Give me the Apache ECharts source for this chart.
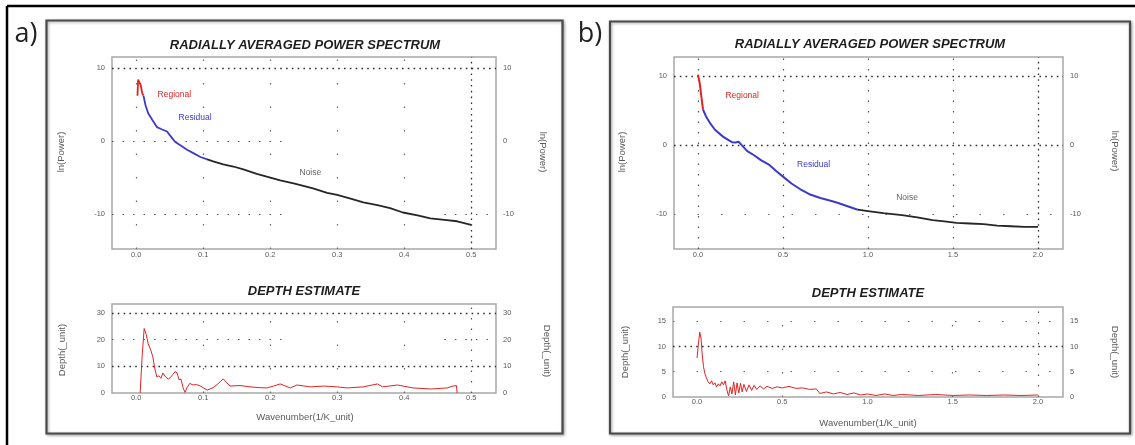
<!DOCTYPE html>
<html><head><meta charset="utf-8">
<script src="https://cdn.jsdelivr.net/npm/echarts@6/dist/echarts.min.js"></script>
<style>html,body{margin:0;padding:0;background:#fff}#c{width:1135px;height:445px}</style>
</head><body><div id="c"></div>
<script>
// ---- Panel a: radially averaged power spectrum (ln(Power) vs wavenumber) ----
const specA_regional = [[0.002,6.2],[0.003,8.4],[0.005,8.6],[0.007,7.6],[0.009,6.6],[0.011,6.2]];
const specA_residual = [[0.011,6.2],[0.014,4.9],[0.018,3.8],[0.024,2.9],[0.031,1.9],[0.038,1.6],[0.046,1.3],[0.052,0.6],[0.058,-0.1],[0.066,-0.6],[0.076,-1.2],[0.086,-1.7],[0.096,-2.2],[0.105,-2.5]];
const specA_noise = [[0.105,-2.5],[0.115,-2.8],[0.13,-3.2],[0.145,-3.5],[0.16,-3.9],[0.18,-4.5],[0.195,-4.9],[0.215,-5.4],[0.235,-5.8],[0.264,-6.5],[0.285,-7.1],[0.3,-7.4],[0.32,-7.9],[0.339,-8.4],[0.36,-8.8],[0.379,-9.2],[0.398,-9.8],[0.42,-10.2],[0.439,-10.6],[0.46,-10.8],[0.479,-11.0],[0.5,-11.5]];
// ---- Panel a: depth estimate ----
const depthA = [[0.006,0],[0.009,14],[0.012,24.2],[0.015,22],[0.018,18.5],[0.022,16],[0.025,13.5],[0.028,9],[0.031,6],[0.034,6.5],[0.037,5.5],[0.04,7.5],[0.044,6],[0.048,5.2],[0.051,5.8],[0.055,7],[0.058,8],[0.061,7.6],[0.064,5],[0.067,5.2],[0.07,2],[0.073,0.2],[0.076,2],[0.08,3.6],[0.085,3.0],[0.09,3.2],[0.096,2.6],[0.106,1.1],[0.115,2.0],[0.122,3.4],[0.13,5.3],[0.14,2.6],[0.155,2.8],[0.17,2.3],[0.185,2.0],[0.195,1.9],[0.205,2.6],[0.215,3.4],[0.23,1.9],[0.24,3.0],[0.26,2.3],[0.28,2.6],[0.3,2.3],[0.315,1.9],[0.339,2.3],[0.36,3.4],[0.368,2.3],[0.39,3.0],[0.413,1.9],[0.44,1.5],[0.464,1.9],[0.473,2.6],[0.478,2.8],[0.479,0]];

// ---- Panel b: radially averaged power spectrum ----
const specB_regional = [[0.0,10.2],[0.005,9.6],[0.01,9.0],[0.015,8.0],[0.02,7.0],[0.025,6.0],[0.03,5.1]];
const specB_residual = [[0.03,5.1],[0.05,4.0],[0.07,3.2],[0.1,2.2],[0.147,1.2],[0.18,0.7],[0.2,0.4],[0.22,0.35],[0.24,0.45],[0.26,-0.1],[0.29,-0.9],[0.33,-1.5],[0.37,-2.2],[0.42,-2.9],[0.46,-3.8],[0.5,-4.6],[0.55,-5.6],[0.6,-6.4],[0.66,-7.2],[0.72,-7.7],[0.78,-8.1],[0.82,-8.4],[0.88,-8.9],[0.94,-9.4]];
const specB_noise = [[0.94,-9.4],[1.0,-9.6],[1.09,-9.9],[1.2,-10.2],[1.29,-10.5],[1.38,-10.9],[1.45,-11.1],[1.52,-11.3],[1.6,-11.4],[1.68,-11.5],[1.76,-11.7],[1.84,-11.8],[1.92,-11.9],[2.0,-11.9]];
// ---- Panel b: depth estimate ----
const depthB = [[0.0,7.7],[0.008,10.5],[0.016,12.8],[0.024,11.5],[0.03,8.5],[0.038,6.0],[0.046,4.6],[0.055,3.8],[0.065,3.0],[0.075,2.6],[0.085,3.2],[0.095,2.4],[0.105,2.8],[0.115,2.0],[0.125,2.6],[0.135,2.2],[0.145,3.0],[0.155,2.4],[0.165,3.2],[0.175,1.4],[0.185,0.2],[0.195,2.0],[0.205,0.6],[0.215,3.0],[0.225,0.4],[0.235,2.8],[0.245,0.8],[0.255,2.7],[0.265,1.0],[0.275,2.5],[0.29,1.1],[0.305,2.4],[0.32,1.3],[0.335,2.3],[0.35,1.5],[0.37,2.2],[0.39,1.6],[0.41,2.1],[0.44,1.7],[0.47,2.0],[0.5,1.8],[0.54,2.1],[0.58,1.7],[0.62,1.8],[0.66,1.5],[0.7,1.6],[0.72,0.7],[0.76,1.0],[0.8,0.6],[0.84,0.9],[0.88,0.5],[0.92,0.8],[0.96,0.4],[1.0,0.6],[1.05,0.3],[1.1,0.6],[1.15,0.3],[1.2,0.5],[1.3,0.3],[1.4,0.5],[1.5,0.3],[1.6,0.4],[1.7,0.3],[1.8,0.4],[1.9,0.3],[2.0,0.4]];

// ---- Tick labels ----
const ticksA_x = [0, 0.1, 0.2, 0.3, 0.4, 0.5];
const ticksB_x = [0, 0.5, 1.0, 1.5, 2.0];
const ticksSpec_y = [-10, 0, 10];
const ticksDepthA_y = [0, 10, 20, 30];
const ticksDepthB_y = [0, 5, 10, 15];

const TXT = '#5a5a5a';
const FONT = '"Liberation Sans", Arial, sans-serif';
const RED = '#e02424', BLUE = '#3b3bc8', BLACK = '#262626';

const heavyDot = {type:[1.6,4.2], color:'#303030', width:1.3};
const sparseDot = {type:[1.5,22], color:'#6a6a6a', width:1.2};
const midDot = {type:[1.5,9], color:'#555', width:1.2};

function xAx(grid, min, max, ticks, margin) {
  return {gridIndex:grid, type:'value', min, max,
    axisLine:{show:false}, axisTick:{show:false}, splitLine:{show:false},
    axisLabel:{customValues:ticks, formatter:v=>v.toFixed(1), fontSize:7.5, color:TXT, fontFamily:FONT, margin}};
}
function yAx(grid, min, max, ticks, pos) {
  return {gridIndex:grid, type:'value', min, max, position:pos,
    axisLine:{show:false}, axisTick:{show:false}, splitLine:{show:false},
    axisLabel:{customValues:ticks, fontSize:7.5, color:TXT, fontFamily:FONT, margin:7}};
}
function gridLines(items) {
  return {silent:true, symbol:['none','none'], label:{show:false}, animation:false,
    emphasis:{disabled:true}, data:items};
}
function curve(name, data, xi, yi, color, width, extra) {
  return Object.assign({name, type:'line', data, xAxisIndex:xi, yAxisIndex:yi, showSymbol:false,
    symbol:'none', lineStyle:{color, width}, silent:true, animation:false, z:5}, extra || {});
}
function tag(text, coord, color) {
  return {silent:true, symbol:'circle', symbolSize:0, animation:false,
    data:[{coord, label:{show:true, position:'inside', formatter:text, color, fontSize:8.5, fontFamily:FONT}}]};
}

const grids = [
  {left:112, top:57, width:384, height:192},
  {left:112, top:304, width:384, height:89},
  {left:674, top:57, width:389, height:192},
  {left:673, top:307, width:390, height:90}
].map(g => Object.assign(g, {show:true, borderColor:'#a8a8a8', borderWidth:1.5, backgroundColor:'#fff'}));

const xAxes = [
  xAx(0, -0.036, 0.537, ticksA_x, 2),
  xAx(1, -0.036, 0.537, ticksA_x, 1),
  xAx(2, -0.141, 2.147, ticksB_x, 2),
  xAx(3, -0.141, 2.147, ticksB_x, 1)
];
const yAxes = [
  yAx(0, -14.8, 11.5, ticksSpec_y, 'left'), yAx(0, -14.8, 11.5, ticksSpec_y, 'right'),
  yAx(1, 0, 33.4, ticksDepthA_y, 'left'), yAx(1, 0, 33.4, ticksDepthA_y, 'right'),
  yAx(2, -15.1, 12.75, ticksSpec_y, 'left'), yAx(2, -15.1, 12.75, ticksSpec_y, 'right'),
  yAx(3, 0, 17.8, ticksDepthB_y, 'left'), yAx(3, 0, 17.8, ticksDepthB_y, 'right')
];

const series = [
  // panel a spectrum
  curve('Regional', specA_regional, 0, 0, RED, 1.8, {markPoint: tag('Regional', [0.057, 6.3], RED)}),
  curve('Residual', specA_residual, 0, 0, BLUE, 1.8, {markPoint: tag('Residual', [0.088, 3.15], BLUE)}),
  curve('Noise', specA_noise, 0, 0, BLACK, 1.8, {
    markPoint: tag('Noise', [0.26, -4.4], '#666'),
    markLine: gridLines([
      {yAxis:10, lineStyle:heavyDot},
      [{coord:[-0.036,-10], lineStyle:midDot},{coord:[0.23,-10]}],
      [{coord:[0.46,-10], lineStyle:midDot},{coord:[0.537,-10]}],
      [{coord:[-0.036,0], lineStyle:midDot},{coord:[0.23,0]}],
      {xAxis:0.5, lineStyle:heavyDot},
      {xAxis:0, lineStyle:sparseDot},{xAxis:0.1, lineStyle:sparseDot},{xAxis:0.2, lineStyle:sparseDot},
      {xAxis:0.3, lineStyle:sparseDot},{xAxis:0.4, lineStyle:sparseDot}
    ])}),
  // panel a depth
  curve('Depth', depthA, 1, 2, RED, 1, {markLine: gridLines([
      {yAxis:30, lineStyle:heavyDot},{yAxis:10, lineStyle:heavyDot},
      [{coord:[-0.036,20], lineStyle:midDot},{coord:[0.23,20]}],
      [{coord:[0.46,20], lineStyle:midDot},{coord:[0.537,20]}],
      {xAxis:0.5, lineStyle:midDot},
      {xAxis:0.1, lineStyle:sparseDot},{xAxis:0.2, lineStyle:sparseDot},
      {xAxis:0.3, lineStyle:sparseDot},{xAxis:0.4, lineStyle:sparseDot}
    ])}),
  // panel b spectrum
  curve('Regional', specB_regional, 2, 4, RED, 2, {markPoint: tag('Regional', [0.26, 7.2], RED)}),
  curve('Residual', specB_residual, 2, 4, BLUE, 2, {markPoint: tag('Residual', [0.68, -2.9], BLUE)}),
  curve('Noise', specB_noise, 2, 4, BLACK, 1.8, {
    markPoint: tag('Noise', [1.23, -7.7], '#666'),
    markLine: gridLines([
      {yAxis:10, lineStyle:heavyDot},{yAxis:0, lineStyle:heavyDot},
      {yAxis:-10, lineStyle:sparseDot},
      {xAxis:2.0, lineStyle:heavyDot},
      {xAxis:0, lineStyle:midDot},{xAxis:0.5, lineStyle:midDot},
      {xAxis:1.0, lineStyle:midDot},{xAxis:1.5, lineStyle:midDot}
    ])}),
  // panel b depth
  curve('Depth', depthB, 3, 6, RED, 1, {markLine: gridLines([
      {yAxis:10, lineStyle:heavyDot},{yAxis:15, lineStyle:sparseDot},{yAxis:5, lineStyle:sparseDot},
      {xAxis:2.0, lineStyle:midDot},{xAxis:0.5, lineStyle:sparseDot},{xAxis:1.5, lineStyle:sparseDot}
    ])})
];

function label(text, x, y, opts) {
  return {type:'text', x, y, silent:true, style:Object.assign({text, fill:TXT, font:'9.5px '+FONT, align:'center', verticalAlign:'middle'}, opts || {})};
}
function vlabel(text, x, y, rot) {
  return {type:'text', x, y, rotation:rot, silent:true,
    style:{text, fill:TXT, font:'9.5px '+FONT, align:'center', verticalAlign:'middle'}};
}
const titleFont = 'italic bold 13px ' + FONT;

const graphic = [
  // outer frame
  {type:'line', silent:true, shape:{x1:7, y1:6, x2:1135, y2:6}, style:{stroke:'#000', lineWidth:2.5}},
  {type:'line', silent:true, shape:{x1:7, y1:6, x2:7, y2:445}, style:{stroke:'#000', lineWidth:2.5}},
  // panel frames
  {type:'rect', silent:true, z:-1, shape:{x:46.5, y:20.5, width:516, height:413},
    style:{fill:'#fff', stroke:'#4a4a4a', lineWidth:2.2, shadowBlur:3, shadowColor:'rgba(0,0,0,0.35)', shadowOffsetX:1, shadowOffsetY:1}},
  {type:'rect', silent:true, z:-1, shape:{x:610, y:21.5, width:520, height:412},
    style:{fill:'#fff', stroke:'#4a4a4a', lineWidth:2.2, shadowBlur:3, shadowColor:'rgba(0,0,0,0.35)', shadowOffsetX:1, shadowOffsetY:1}},
  // panel letters
  label('a)', 26, 34, {font:'27px "Open Sans", sans-serif', fill:'#222'}),
  label('b)', 590, 34, {font:'27px "Open Sans", sans-serif', fill:'#222'}),
  // titles
  label('RADIALLY AVERAGED POWER SPECTRUM', 305, 45, {font:titleFont, fill:'#1e1e1e'}),
  label('DEPTH ESTIMATE', 304, 291, {font:titleFont, fill:'#1e1e1e'}),
  label('RADIALLY AVERAGED POWER SPECTRUM', 870, 44, {font:titleFont, fill:'#1e1e1e'}),
  label('DEPTH ESTIMATE', 868, 293, {font:titleFont, fill:'#1e1e1e'}),
  // axis titles
  vlabel('ln(Power)', 61, 152, Math.PI/2), vlabel('ln(Power)', 543, 152, -Math.PI/2),
  vlabel('Depth(_unit)', 62, 350, Math.PI/2), vlabel('Depth(_unit)', 547, 351, -Math.PI/2),
  label('Wavenumber(1/K_unit)', 305, 417),
  vlabel('ln(Power)', 622, 152, Math.PI/2), vlabel('ln(Power)', 1115, 151, -Math.PI/2),
  vlabel('Depth(_unit)', 625, 352, Math.PI/2), vlabel('Depth(_unit)', 1115, 352, -Math.PI/2),
  label('Wavenumber(1/K_unit)', 868, 423)
];

const chart = echarts.init(document.getElementById('c'), null, {renderer:'canvas'});
chart.setOption({backgroundColor:'#fff', animation:false, grid:grids, xAxis:xAxes, yAxis:yAxes, series, graphic});
</script></body></html>
